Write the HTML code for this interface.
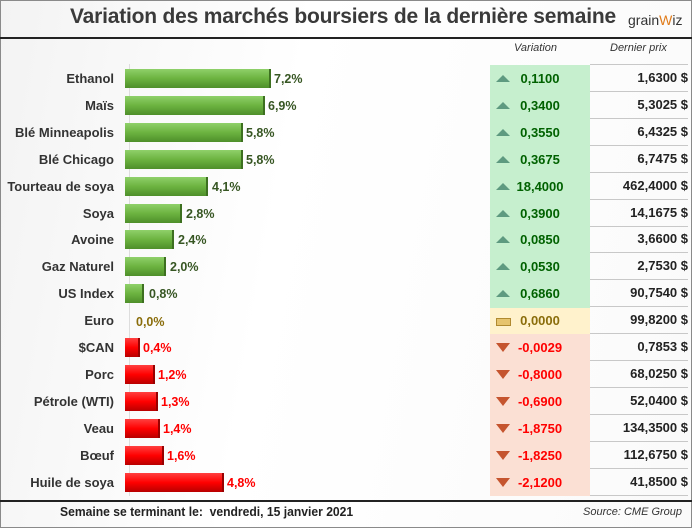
<!DOCTYPE html>
<html><head><meta charset="utf-8"><style>
body{margin:0;width:693px;height:529px;overflow:hidden;background:#fff;font-family:"Liberation Sans",sans-serif}
.f{position:absolute;left:0;top:0;width:690px;height:526px;border:1px solid #8a8a8a;background:linear-gradient(100deg,#f3f3f3 0%,#fff 40%,#fafafa 100%)}
.a{position:absolute}
.t{position:absolute;left:70px;top:5px;font-size:21px;font-weight:bold;color:#3a3a3a;letter-spacing:-0.2px;transform:scaleX(1.0);transform-origin:left}
.l{position:absolute;width:114px;text-align:right;font-size:13px;font-weight:bold;color:#333}
.g{position:absolute;height:19px;left:125px;background:linear-gradient(#8fd06a,#6cb340 50%,#4e8f2a);border-right:2px solid #3d7020;box-sizing:border-box}
.r{position:absolute;height:19px;left:125px;background:linear-gradient(#ff4040,#f00 50%,#b80000);border-right:2px solid #900;box-sizing:border-box}
.p{position:absolute;font-size:12.5px;font-weight:bold}
.v{position:absolute;left:490px;width:100px;height:27px}
.pr{position:absolute;left:590px;width:98px;height:26px;border-bottom:1px solid #c8c8c8;text-align:right;font-size:13px;font-weight:bold;color:#222;line-height:26px}
.vt{position:absolute;left:505px;width:70px;text-align:center;font-size:13px;font-weight:bold;line-height:27px}
.up{position:absolute;left:6px;top:10px;width:0;height:0;border-left:7px solid transparent;border-right:7px solid transparent;border-bottom:7px solid #5e9a80}
.dn{position:absolute;left:6px;top:9px;width:0;height:0;border-left:7px solid transparent;border-right:7px solid transparent;border-top:9px solid #c5552f}
</style></head><body><div class="f"></div>
<div class="t">Variation des marchés boursiers de la dernière semaine</div>
<div class="a" style="left:628px;top:12px;font-size:14px;color:#333">grain<span style="color:#e07b1a">W</span>iz</div>
<div class="a" style="left:0;top:37px;width:692px;height:2px;background:#222"></div>
<div class="a" style="left:514px;top:42px;font-size:11px;font-style:italic;color:#333">Variation</div>
<div class="a" style="left:610px;top:42px;font-size:11px;font-style:italic;color:#333">Dernier prix</div>
<div class="a" style="left:590px;top:64px;width:98px;height:1px;background:#c8c8c8"></div>
<div class="a" style="left:129px;top:64px;width:1px;height:432px;background:#ddd"></div>

<div class="v" style="top:65px;height:269px;background:#c6efce"></div>
<div class="v" style="top:308px;height:26px;background:#fff2cc"></div>
<div class="v" style="top:334px;height:162px;background:#fbe0d4"></div>

<div class="l" style="top:71px;">Ethanol</div><div class="g" style="top:69px;width:146px"></div><div class="p" style="left:274px;top:72px;color:#375623">7,2%</div>
<div class="l" style="top:98px;">Maïs</div><div class="g" style="top:96px;width:140px"></div><div class="p" style="left:268px;top:99px;color:#375623">6,9%</div>
<div class="l" style="top:125px;">Blé Minneapolis</div><div class="g" style="top:123px;width:118px"></div><div class="p" style="left:246px;top:126px;color:#375623">5,8%</div>
<div class="l" style="top:152px;">Blé Chicago</div><div class="g" style="top:150px;width:118px"></div><div class="p" style="left:246px;top:153px;color:#375623">5,8%</div>
<div class="l" style="top:179px;">Tourteau de soya</div><div class="g" style="top:177px;width:83px"></div><div class="p" style="left:212px;top:180px;color:#375623">4,1%</div>
<div class="l" style="top:206px;">Soya</div><div class="g" style="top:204px;width:57px"></div><div class="p" style="left:186px;top:207px;color:#375623">2,8%</div>
<div class="l" style="top:232px;">Avoine</div><div class="g" style="top:230px;width:49px"></div><div class="p" style="left:178px;top:233px;color:#375623">2,4%</div>
<div class="l" style="top:259px;">Gaz Naturel</div><div class="g" style="top:257px;width:41px"></div><div class="p" style="left:170px;top:260px;color:#375623">2,0%</div>
<div class="l" style="top:286px;">US Index</div><div class="g" style="top:284px;width:19px"></div><div class="p" style="left:149px;top:287px;color:#375623">0,8%</div>
<div class="l" style="top:313px;">Euro</div><div class="p" style="left:136px;top:315px;color:#8a6d0b">0,0%</div>
<div class="l" style="top:340px;">$CAN</div><div class="r" style="top:338px;width:15px"></div><div class="p" style="left:143px;top:341px;color:#f00">0,4%</div>
<div class="l" style="top:367px;">Porc</div><div class="r" style="top:365px;width:30px"></div><div class="p" style="left:158px;top:368px;color:#f00">1,2%</div>
<div class="l" style="top:394px;">Pétrole (WTI)</div><div class="r" style="top:392px;width:33px"></div><div class="p" style="left:161px;top:395px;color:#f00">1,3%</div>
<div class="l" style="top:421px;">Veau</div><div class="r" style="top:419px;width:35px"></div><div class="p" style="left:163px;top:422px;color:#f00">1,4%</div>
<div class="l" style="top:448px;">Bœuf</div><div class="r" style="top:446px;width:39px"></div><div class="p" style="left:167px;top:449px;color:#f00">1,6%</div>
<div class="l" style="top:475px;">Huile de soya</div><div class="r" style="top:473px;width:99px"></div><div class="p" style="left:227px;top:476px;color:#f00">4,8%</div>

<div class="a" style="left:490px;top:65px"><div class="up"></div></div><div class="vt" style="top:65px;color:#006100">0,1100</div><div class="pr" style="top:65px">1,6300 $</div>
<div class="a" style="left:490px;top:92px"><div class="up"></div></div><div class="vt" style="top:92px;color:#006100">0,3400</div><div class="pr" style="top:92px">5,3025 $</div>
<div class="a" style="left:490px;top:119px"><div class="up"></div></div><div class="vt" style="top:119px;color:#006100">0,3550</div><div class="pr" style="top:119px">6,4325 $</div>
<div class="a" style="left:490px;top:146px"><div class="up"></div></div><div class="vt" style="top:146px;color:#006100">0,3675</div><div class="pr" style="top:146px">6,7475 $</div>
<div class="a" style="left:490px;top:173px"><div class="up"></div></div><div class="vt" style="top:173px;color:#006100">18,4000</div><div class="pr" style="top:173px">462,4000 $</div>
<div class="a" style="left:490px;top:200px"><div class="up"></div></div><div class="vt" style="top:200px;color:#006100">0,3900</div><div class="pr" style="top:200px">14,1675 $</div>
<div class="a" style="left:490px;top:226px"><div class="up"></div></div><div class="vt" style="top:226px;color:#006100">0,0850</div><div class="pr" style="top:226px">3,6600 $</div>
<div class="a" style="left:490px;top:253px"><div class="up"></div></div><div class="vt" style="top:253px;color:#006100">0,0530</div><div class="pr" style="top:253px">2,7530 $</div>
<div class="a" style="left:490px;top:280px"><div class="up"></div></div><div class="vt" style="top:280px;color:#006100">0,6860</div><div class="pr" style="top:280px">90,7540 $</div>
<div class="a" style="left:496px;top:318px;width:13px;height:6px;background:#e6c46e;border:1px solid #b08a30"></div><div class="vt" style="top:307px;color:#8a6d0b">0,0000</div><div class="pr" style="top:307px">99,8200 $</div>
<div class="a" style="left:490px;top:334px"><div class="dn"></div></div><div class="vt" style="top:334px;color:#f00">-0,0029</div><div class="pr" style="top:334px">0,7853 $</div>
<div class="a" style="left:490px;top:361px"><div class="dn"></div></div><div class="vt" style="top:361px;color:#f00">-0,8000</div><div class="pr" style="top:361px">68,0250 $</div>
<div class="a" style="left:490px;top:388px"><div class="dn"></div></div><div class="vt" style="top:388px;color:#f00">-0,6900</div><div class="pr" style="top:388px">52,0400 $</div>
<div class="a" style="left:490px;top:415px"><div class="dn"></div></div><div class="vt" style="top:415px;color:#f00">-1,8750</div><div class="pr" style="top:415px">134,3500 $</div>
<div class="a" style="left:490px;top:442px"><div class="dn"></div></div><div class="vt" style="top:442px;color:#f00">-1,8250</div><div class="pr" style="top:442px">112,6750 $</div>
<div class="a" style="left:490px;top:469px"><div class="dn"></div></div><div class="vt" style="top:469px;color:#f00">-2,1200</div><div class="pr" style="top:469px">41,8500 $</div>

<div class="a" style="left:0;top:500px;width:692px;height:2px;background:#222"></div>
<div class="a" style="left:60px;top:505px;font-size:12.5px;font-weight:bold;color:#222;transform:scaleX(0.97);transform-origin:left">Semaine se terminant le:&nbsp; vendredi, 15 janvier 2021</div>
<div class="a" style="left:583px;top:506px;font-size:11px;font-style:italic;color:#333">Source: CME Group</div>
</body></html>
